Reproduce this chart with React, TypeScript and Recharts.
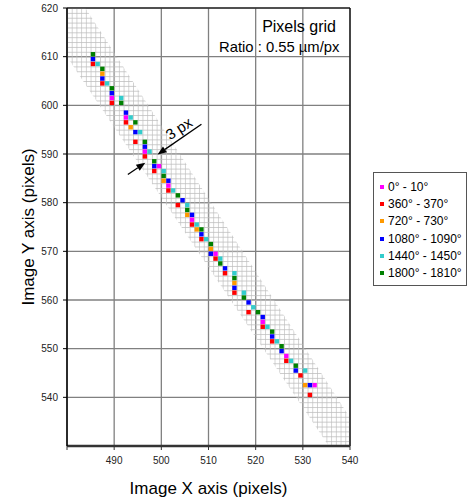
import React from "react";
import {
  ComposedChart,
  Area,
  Scatter,
  XAxis,
  YAxis,
  CartesianGrid,
  ReferenceLine,
  ReferenceDot,
  Legend,
} from "recharts";

// pixel positions of the tracked point, per angle window
const deg0 = [
  { x: 489.5, y: 601.5 }, { x: 492.5, y: 597.5 }, { x: 496.5, y: 590.5 }, { x: 499.5, y: 587.5 },
  { x: 501.5, y: 583.5 }, { x: 506.5, y: 576.5 }, { x: 511.5, y: 569.5 }, { x: 521.5, y: 555.5 },
  { x: 526.5, y: 548.5 }, { x: 532.5, y: 542.5 },
];
const deg360 = [
  { x: 485.5, y: 608.5 }, { x: 487.5, y: 604.5 }, { x: 489.5, y: 600.5 }, { x: 492.5, y: 596.5 },
  { x: 494.5, y: 592.5 }, { x: 496.5, y: 589.5 }, { x: 498.5, y: 586.5 }, { x: 501.5, y: 582.5 },
  { x: 503.5, y: 579.5 }, { x: 506.5, y: 575.5 }, { x: 508.5, y: 572.5 }, { x: 511.5, y: 568.5 },
  { x: 513.5, y: 565.5 }, { x: 515.5, y: 561.5 }, { x: 518.5, y: 557.5 }, { x: 521.5, y: 554.5 },
  { x: 523.5, y: 551.5 }, { x: 526.5, y: 547.5 }, { x: 529.5, y: 544.5 }, { x: 531.5, y: 540.5 },
];
const deg720 = [
  { x: 487.5, y: 606.5 }, { x: 493.5, y: 595.5 }, { x: 500.5, y: 584.5 }, { x: 505.5, y: 577.5 },
  { x: 507.5, y: 574.5 }, { x: 510.5, y: 570.5 }, { x: 515.5, y: 563.5 }, { x: 530.5, y: 542.5 },
];
const deg1080 = [
  { x: 485.5, y: 609.5 }, { x: 487.5, y: 605.5 }, { x: 489.5, y: 602.5 }, { x: 492.5, y: 598.5 },
  { x: 494.5, y: 594.5 }, { x: 496.5, y: 591.5 }, { x: 498.5, y: 587.5 }, { x: 501.5, y: 584.5 },
  { x: 504.5, y: 580.5 }, { x: 506.5, y: 577.5 }, { x: 508.5, y: 573.5 }, { x: 510.5, y: 569.5 },
  { x: 513.5, y: 566.5 }, { x: 515.5, y: 562.5 }, { x: 518.5, y: 559.5 }, { x: 521.5, y: 556.5 },
  { x: 523.5, y: 552.5 }, { x: 525.5, y: 549.5 }, { x: 528.5, y: 545.5 }, { x: 531.5, y: 542.5 },
];
const deg1440 = [
  { x: 486.5, y: 608.5 }, { x: 488.5, y: 604.5 }, { x: 491.5, y: 601.5 }, { x: 493.5, y: 597.5 },
  { x: 495.5, y: 594.5 }, { x: 497.5, y: 590.5 }, { x: 500.5, y: 586.5 }, { x: 502.5, y: 582.5 },
  { x: 505.5, y: 579.5 }, { x: 507.5, y: 575.5 }, { x: 509.5, y: 572.5 }, { x: 512.5, y: 568.5 },
  { x: 515.5, y: 565.5 }, { x: 517.5, y: 561.5 }, { x: 519.5, y: 558.5 }, { x: 522.5, y: 554.5 },
  { x: 524.5, y: 551.5 }, { x: 527.5, y: 547.5 }, { x: 530.5, y: 545.5 },
];
const deg1800 = [
  { x: 485.5, y: 610.5 }, { x: 487.5, y: 607.5 }, { x: 489.5, y: 603.5 }, { x: 491.5, y: 600.5 },
  { x: 494.5, y: 596.5 }, { x: 496.5, y: 592.5 }, { x: 498.5, y: 588.5 }, { x: 500.5, y: 585.5 },
  { x: 503.5, y: 581.5 }, { x: 505.5, y: 578.5 }, { x: 508.5, y: 574.5 }, { x: 510.5, y: 571.5 },
  { x: 512.5, y: 567.5 }, { x: 515.5, y: 564.5 }, { x: 517.5, y: 560.5 }, { x: 520.5, y: 557.5 },
  { x: 523.5, y: 553.5 }, { x: 525.5, y: 550.5 }, { x: 528.5, y: 546.5 },
];

// the hatched pixel band (lower / upper edge)
const bandX = [480, 483.9, 535.5, 540];
const bandLow = [610, 604.3, 530, 530];
const bandHigh = [620, 620, 542.6, 535.8];

const xTicks = [480, 490, 500, 510, 520, 530, 540];
const yTicks = [540, 550, 560, 570, 580, 590, 600, 610, 620];

const series = [
  { name: "0° - 10°", color: "#ff00ff", data: deg0 },
  { name: "360° - 370°", color: "#ff0000", data: deg360 },
  { name: "720° - 730°", color: "#ff9900", data: deg720 },
  { name: "1080° - 1090°", color: "#0000ff", data: deg1080 },
  { name: "1440° - 1450°", color: "#33cccc", data: deg1440 },
  { name: "1800° - 1810°", color: "#008000", data: deg1800 },
];

const bandData = bandX.map((x, i) => ({ x, band: [bandLow[i], bandHigh[i]] }));

const FONT = "'Liberation Sans', Arial, sans-serif";
const W = 470;
const H = 503;
const M = { top: 8, right: 120, left: 0, bottom: 0 };
const Y_AXIS_W = 67;
const X_AXIS_H = 57;
const plotW = W - M.right - Y_AXIS_W;
const plotH = H - M.top - X_AXIS_H;
const cellW = plotW / (xTicks[xTicks.length - 1] - xTicks[0]);
const cellH = plotH / 90;

const square = (props: any) => {
  const { cx, cy, fill } = props;
  if (cx == null || cy == null) return null;
  return <rect x={cx - 2.2} y={cy - 2.2} width={4.4} height={4.4} fill={fill} />;
};

const arrowShape = (props: any) => {
  const { x1, y1, x2, y2 } = props;
  const dx = x2 - x1;
  const dy = y2 - y1;
  const len = Math.sqrt(dx * dx + dy * dy) || 1;
  const ux = dx / len;
  const uy = dy / len;
  const hl = 9;
  const hw = 3.5;
  const bx = x2 - ux * hl;
  const by = y2 - uy * hl;
  return (
    <g>
      <line x1={x1} y1={y1} x2={bx} y2={by} stroke="#000" strokeWidth={1.3} />
      <polygon
        points={`${x2},${y2} ${bx - uy * hw},${by + ux * hw} ${bx + uy * hw},${by - ux * hw}`}
        fill="#000"
      />
    </g>
  );
};

const textAt = (text: string, size: number, angle = 0, anchor = "middle") => (props: any) => {
  const { cx, cy } = props;
  return (
    <text
      x={cx}
      y={cy}
      fontSize={size}
      fontFamily={FONT}
      fill="#000"
      textAnchor={anchor}
      transform={angle ? `rotate(${angle} ${cx} ${cy})` : undefined}
      dominantBaseline={angle ? "central" : undefined}
    >
      {text}
    </text>
  );
};

const LegendBox = (props: any) => {
  const order = series.map((s) => s.name);
  const payload = (props.payload || [])
    .filter((p: any) => p.type !== "none" && order.includes(p.value))
    .sort((a: any, b: any) => order.indexOf(a.value) - order.indexOf(b.value));
  return (
    <div
      style={{
        border: "1.3px solid #555",
        background: "#fff",
        padding: "5px 0 3px 0",
        fontFamily: FONT,
        fontSize: 12,
        color: "#000",
        width: 94,
        boxSizing: "border-box",
        whiteSpace: "nowrap",
      }}
    >
      {payload.map((p: any) => (
        <div key={p.value} style={{ display: "flex", alignItems: "center", height: 17.3 }}>
          <span
            style={{
              display: "inline-block",
              width: 4,
              height: 4,
              background: p.color,
              marginLeft: 6,
              marginRight: 4,
              flexShrink: 0,
            }}
          />
          <span>{p.value}</span>
        </div>
      ))}
    </div>
  );
};

export default function App() {
  return (
    <div style={{ position: "absolute", left: 0, top: 0, background: "#fff" }}>
      <ComposedChart width={W} height={H} data={bandData} margin={M}>
        <defs>
          <pattern
            id="pixgrid"
            patternUnits="userSpaceOnUse"
            x={Y_AXIS_W}
            y={M.top}
            width={cellW}
            height={cellH}
          >
            <path
              d={`M0 0 H${cellW} M0 0 V${cellH}`}
              stroke="#bcbcbc"
              strokeWidth={1.3}
              fill="none"
            />
          </pattern>
        </defs>
        <CartesianGrid stroke="#808080" strokeWidth={1.3} />
        <XAxis
          type="number"
          dataKey="x"
          domain={[480, 540]}
          ticks={xTicks}
          allowDataOverflow
          height={X_AXIS_H}
          tickFormatter={(v: number) => (v === 480 ? "" : String(v))}
          tick={{ fontSize: 10, fontFamily: FONT, fill: "#222" }}
          tickSize={4}
          tickMargin={7}
          axisLine={{ stroke: "#333", strokeWidth: 2.5 }}
          tickLine={{ stroke: "#333" }}
          label={{
            content: (p: any) => {
              const vb = p.viewBox;
              return (
                <text
                  x={vb.x + vb.width / 2}
                  y={vb.y + 48}
                  textAnchor="middle"
                  fontSize={17}
                  fontFamily={FONT}
                  fill="#000"
                >
                  Image X axis (pixels)
                </text>
              );
            },
          }}
        />
        <YAxis
          type="number"
          domain={[530, 620]}
          ticks={yTicks}
          allowDataOverflow
          width={Y_AXIS_W}
          tick={{ fontSize: 10, fontFamily: FONT, fill: "#222" }}
          tickSize={4}
          tickMargin={5}
          axisLine={{ stroke: "#000", strokeWidth: 1.5 }}
          tickLine={{ stroke: "#000" }}
          label={{
            content: (p: any) => {
              const vb = p.viewBox;
              const cx = 28;
              const cy = vb.y + vb.height / 2;
              return (
                <text
                  x={cx}
                  y={cy}
                  textAnchor="middle"
                  dominantBaseline="central"
                  fontSize={17}
                  fontFamily={FONT}
                  fill="#000"
                  transform={`rotate(-90 ${cx} ${cy})`}
                >
                  Image Y axis (pixels)
                </text>
              );
            },
          }}
        />
        <Area
          dataKey="band"
          type="linear"
          stroke="none"
          fill="url(#pixgrid)"
          fillOpacity={1}
          legendType="none"
          isAnimationActive={false}
          activeDot={false}
        />
        {series.map((s) => (
          <Scatter
            key={s.name}
            name={s.name}
            data={s.data}
            dataKey="y"
            fill={s.color}
            shape={square}
            legendType="square"
            isAnimationActive={false}
          />
        ))}
        <ReferenceLine y={620} stroke="#000" strokeWidth={1.2} />
        <ReferenceLine x={540} stroke="#000" strokeWidth={1.2} />
        <ReferenceLine
          segment={[{ x: 508.5, y: 596.1 }, { x: 499.2, y: 589.9 }]}
          shape={arrowShape}
        />
        <ReferenceLine
          segment={[{ x: 492.9, y: 585.8 }, { x: 496.6, y: 588.2 }]}
          shape={arrowShape}
        />
        <ReferenceDot x={503.7} y={595.3} r={0} shape={textAt("3 px", 15, -33)} />
        <ReferenceDot x={529.2} y={615.1} r={0} shape={textAt("Pixels grid", 16)} />
        <ReferenceDot x={525.0} y={611.0} r={0} shape={textAt("Ratio : 0.55 µm/px", 14.8)} />
        <Legend
          layout="vertical"
          align="center"
          verticalAlign="middle"
          content={<LegendBox />}
          wrapperStyle={{ left: 373, top: 172, width: 94 }}
        />
      </ComposedChart>
    </div>
  );
}
